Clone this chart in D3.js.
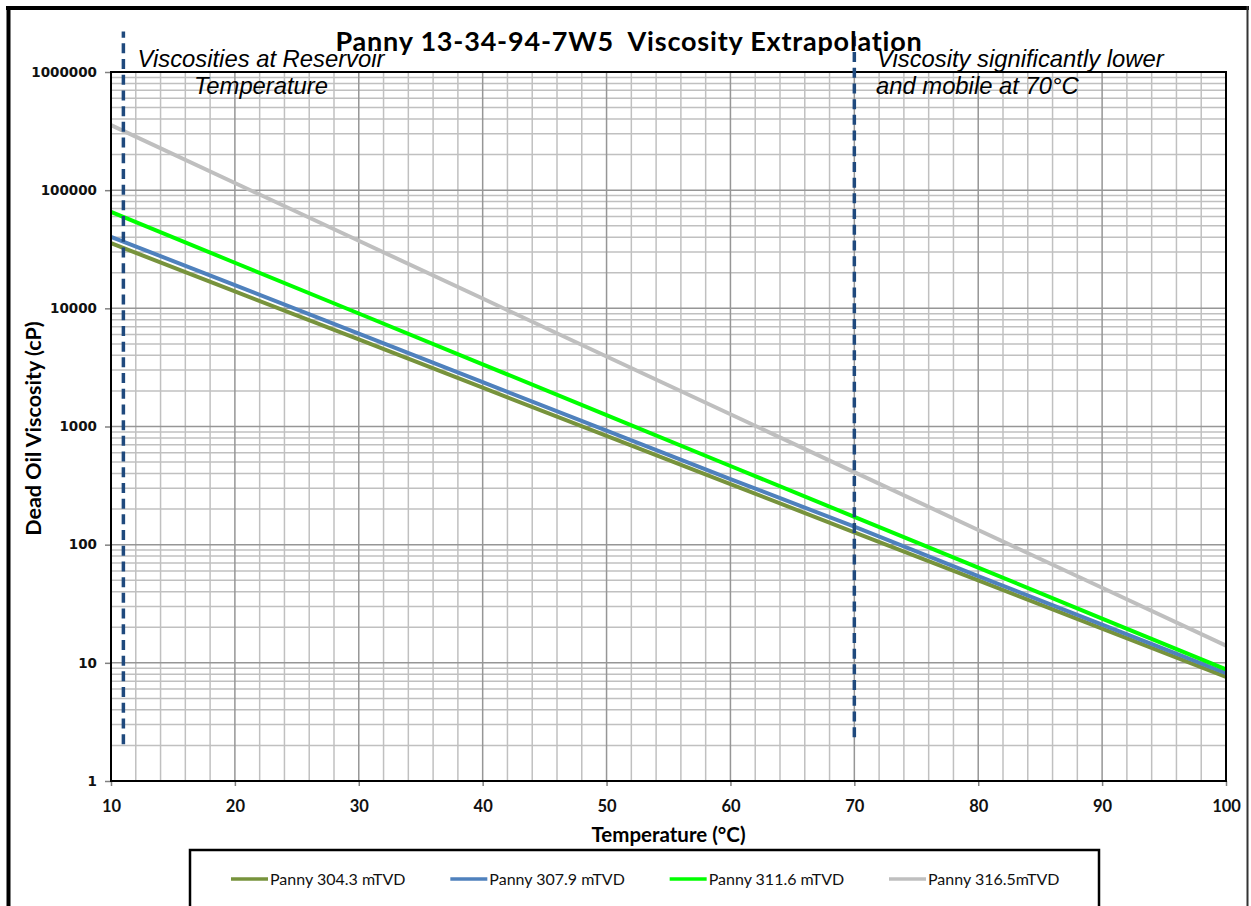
<!DOCTYPE html>
<html>
<head>
<meta charset="utf-8">
<script src="https://cdn.jsdelivr.net/npm/d3@7"></script>
<style>
  html, body { margin: 0; padding: 0; background: #fff; }
  svg { display: block; }
  .keep-space { white-space: pre; }
</style>
</head>
<body>
<svg id="chart" width="1251" height="906"></svg>
<script>
// Temperatures (°C) at which viscosity is tabulated
const temps = [10, 20, 30, 40, 50, 60, 70, 80, 90, 100];

// Dead oil viscosity (cP) per sample depth
const visc3043 = [35600, 13900, 5450, 2130, 832, 326, 127, 49.8, 19.5, 7.6];
const visc3079 = [40300, 15700, 6100, 2370, 923, 359, 142, 54.2, 21.1, 8.2];
const visc3116 = [65500, 24300, 9040, 3360, 1250, 463, 172, 64, 23.7, 8.8];
const visc3165 = [355000, 115000, 37300, 12100, 3910, 1270, 411, 133, 43.2, 14];

const seriesNames = ["Panny 304.3 mTVD", "Panny 307.9 mTVD", "Panny 311.6 mTVD", "Panny 316.5mTVD"];
const seriesColors = ["#77933C", "#4F81BD", "#00FF00", "#BFBFBF"];
const seriesValues = [visc3043, visc3079, visc3116, visc3165];

// Axis ticks
const xTicks = [10, 20, 30, 40, 50, 60, 70, 80, 90, 100];
const yTicks = [1, 10, 100, 1000, 10000, 100000, 1000000];

// Reference temperatures marked with dashed lines, and their vertical extent (cP)
const refTemps = [11, 70];
const refSpan = [[2.05, 2.2e6], [2.35, 2.2e6]];

const svg = d3.select("#chart");
const W = 1251, H = 906;
const plot = { left: 111, top: 72, right: 1226, bottom: 781 };

const x = d3.scaleLinear().domain([10, 100]).range([plot.left, plot.right]);
const y = d3.scaleLog().domain([1, 1e6]).range([plot.bottom, plot.top]);

// Outer chart frame
const frame = svg.append("g");
frame.append("line").attr("x1", 6).attr("x2", 1249).attr("y1", 8).attr("y2", 8)
  .attr("stroke", "#000").attr("stroke-width", 4);
frame.append("line").attr("x1", 8.5).attr("x2", 8.5).attr("y1", 6).attr("y2", H)
  .attr("stroke", "#000").attr("stroke-width", 4);
frame.append("line").attr("x1", 1247.5).attr("x2", 1247.5).attr("y1", 6).attr("y2", H)
  .attr("stroke", "#333").attr("stroke-width", 2);

// Gridlines
const grid = svg.append("g");
const minorX = d3.range(12, 100, 2).filter(v => v % 10 !== 0);
const minorY = [];
for (let d = 1; d < 1e6; d *= 10) for (let k = 2; k <= 9; k++) minorY.push(k * d);

grid.selectAll(".mx").data(minorX).join("line")
  .attr("x1", d => x(d)).attr("x2", d => x(d)).attr("y1", plot.top).attr("y2", plot.bottom)
  .attr("stroke", "#C0C0C0").attr("stroke-width", 1.5);
grid.selectAll(".my").data(minorY).join("line")
  .attr("x1", plot.left).attr("x2", plot.right).attr("y1", d => y(d)).attr("y2", d => y(d))
  .attr("stroke", "#C0C0C0").attr("stroke-width", 1.5);
grid.selectAll(".Mx").data(xTicks).join("line")
  .attr("x1", d => x(d)).attr("x2", d => x(d)).attr("y1", plot.top).attr("y2", plot.bottom)
  .attr("stroke", "#969696").attr("stroke-width", 1.5);
grid.selectAll(".My").data(yTicks).join("line")
  .attr("x1", plot.left).attr("x2", plot.right).attr("y1", d => y(d)).attr("y2", d => y(d))
  .attr("stroke", "#969696").attr("stroke-width", 1.5);

// Axes
const xAxis = svg.append("g").attr("transform", `translate(0,${plot.bottom})`)
  .call(d3.axisBottom(x).tickValues(xTicks).tickSize(5).tickPadding(14).tickFormat(d3.format("d")));
const yAxis = svg.append("g").attr("transform", `translate(${plot.left},0)`)
  .call(d3.axisLeft(y).tickValues(yTicks).tickSize(6).tickPadding(8).tickFormat(d3.format("d")));
xAxis.select(".domain").remove();
yAxis.select(".domain").remove();
xAxis.selectAll(".tick line").attr("stroke", "#808080").attr("stroke-width", 1.5);
yAxis.selectAll(".tick line").attr("stroke", "#808080").attr("stroke-width", 1.5);
xAxis.selectAll(".tick text")
  .attr("font-family", "Lato, sans-serif").attr("font-weight", "bold").attr("font-size", 16.5).attr("fill", "#111");
yAxis.selectAll(".tick text")
  .attr("font-family", "'DejaVu Sans', sans-serif").attr("font-weight", "bold").attr("font-size", 13.5).attr("fill", "#111");

// Series lines
const line = d3.line().x((d, i) => x(temps[i])).y(d => y(d));
svg.append("g").selectAll("path").data(seriesValues).join("path")
  .attr("d", d => line(d))
  .attr("fill", "none")
  .attr("stroke", (d, i) => seriesColors[i])
  .attr("stroke-width", 4)
  .attr("stroke-linecap", "butt");

// Plot area border
svg.append("rect")
  .attr("x", plot.left).attr("y", plot.top)
  .attr("width", plot.right - plot.left).attr("height", plot.bottom - plot.top)
  .attr("fill", "none").attr("stroke", "#000").attr("stroke-width", 2);

// Dashed reference lines
svg.append("g").selectAll("line").data(refTemps).join("line")
  .attr("x1", d => x(d)).attr("x2", d => x(d))
  .attr("y1", (d, i) => y(refSpan[i][0])).attr("y2", (d, i) => y(refSpan[i][1]))
  .attr("stroke", "#1F497D").attr("stroke-width", 3.5).attr("stroke-dasharray", "10,5.7");

// Title
svg.append("text")
  .attr("class", "keep-space")
  .attr("x", 629).attr("y", 51).attr("text-anchor", "middle")
  .attr("font-family", "Lato, sans-serif").attr("font-weight", "bold").attr("font-size", 27)
  .attr("letter-spacing", 0.8)
  .attr("fill", "#000")
  .text("Panny 13-34-94-7W5  Viscosity Extrapolation");

// Annotations
const noteFont = "'Liberation Sans', Arial, sans-serif";
const leftNote = svg.append("text")
  .attr("font-family", noteFont).attr("font-style", "italic").attr("font-size", 23.8)
  .attr("text-anchor", "middle").attr("fill", "#000");
leftNote.append("tspan").attr("x", 261).attr("y", 67).text("Viscosities at Reservoir");
leftNote.append("tspan").attr("x", 261).attr("y", 94).text("Temperature");
const rightNote = svg.append("text")
  .attr("font-family", noteFont).attr("font-style", "italic").attr("font-size", 23.8)
  .attr("text-anchor", "start").attr("fill", "#000");
rightNote.append("tspan").attr("x", 877).attr("y", 67).text("Viscosity significantly lower");
rightNote.append("tspan").attr("x", 876).attr("y", 94).text("and mobile at 70°C");

// Axis titles
svg.append("text")
  .attr("x", (plot.left + plot.right) / 2).attr("y", 842).attr("text-anchor", "middle")
  .attr("font-family", "Lato, sans-serif").attr("font-weight", "bold").attr("font-size", 20.5)
  .text("Temperature (°C)");
svg.append("text")
  .attr("transform", `translate(41,${(plot.top + plot.bottom) / 2 + 2}) rotate(-90)`)
  .attr("text-anchor", "middle")
  .attr("font-family", "Lato, sans-serif").attr("font-weight", "bold").attr("font-size", 21.5)
  .text("Dead Oil Viscosity (cP)");

// Legend
const legend = svg.append("g");
legend.append("rect").attr("x", 190).attr("y", 850).attr("width", 909).attr("height", 80)
  .attr("fill", "#fff").attr("stroke", "#000").attr("stroke-width", 2.5);
const itemX = d3.scalePoint().domain(seriesNames).range([231, 889]);
const items = legend.selectAll(".item").data(seriesNames).join("g")
  .attr("transform", d => `translate(${itemX(d)},879)`);
items.append("line").attr("x1", 0).attr("x2", 37).attr("y1", 0).attr("y2", 0)
  .attr("stroke", (d, i) => seriesColors[i]).attr("stroke-width", 3.5);
items.append("text").attr("x", 39).attr("y", 6)
  .attr("font-family", "Lato, sans-serif").attr("font-size", 16).attr("fill", "#111")
  .text(d => d);
</script>
</body>
</html>
